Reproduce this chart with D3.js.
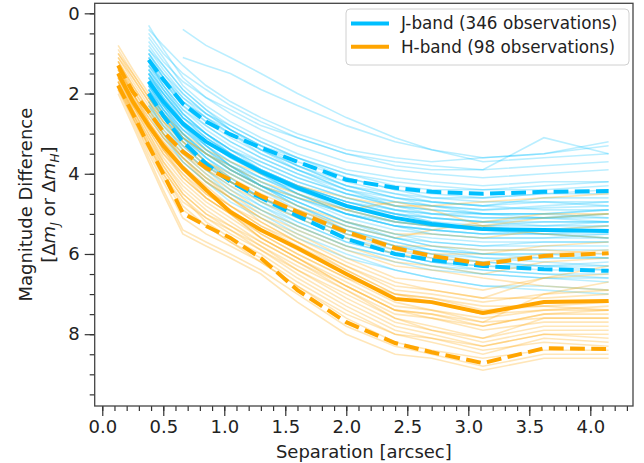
<!DOCTYPE html>
<html>
<head>
<meta charset="utf-8">
<script src="https://cdn.jsdelivr.net/npm/d3@7"></script>
<style>
  body { margin: 0; background: #fff; }
  text { font-family: "DejaVu Sans", sans-serif; fill: #222; }
</style>
</head>
<body>
<div id="chart"></div>
<script>
// separations (arcsec) at which each contrast curve is sampled
const sepJ = [0.38, 0.5, 0.66, 0.85, 1.05, 1.3, 1.6, 2.0, 2.4, 2.7, 3.12, 3.62, 4.15];
const sepH = [0.13, 0.25, 0.38, 0.5, 0.66, 0.85, 1.05, 1.3, 1.6, 2.0, 2.4, 2.7, 3.12, 3.62, 4.15];

// summary curves (median + dashed envelopes)
const jMedian = [1.7, 2.2, 2.75, 3.2, 3.55, 3.95, 4.35, 4.8, 5.1, 5.25, 5.38, 5.4, 5.43];
const jUpper  = [1.16, 1.65, 2.25, 2.7, 3.02, 3.35, 3.7, 4.15, 4.35, 4.45, 4.5, 4.45, 4.43];
const jLower  = [2.0, 2.55, 3.2, 3.75, 4.2, 4.6, 5.05, 5.62, 6.0, 6.15, 6.3, 6.38, 6.42];

const hMedian = [1.5, 2.2, 2.8, 3.3, 3.85, 4.4, 4.95, 5.4, 5.85, 6.5, 7.12, 7.2, 7.47, 7.2, 7.17];
const hUpper  = [1.3, 1.95, 2.45, 2.95, 3.45, 3.85, 4.15, 4.55, 4.95, 5.45, 5.85, 6.05, 6.25, 6.05, 5.98];
const hLower  = [1.8, 2.5, 3.3, 4.0, 4.98, 5.3, 5.6, 6.1, 6.9, 7.7, 8.22, 8.45, 8.72, 8.35, 8.37];

// individual J-band observations (a subset)
const jCurves = [
  [0.3, 0.9, 1.6, 2.1, 2.5, 2.9, 3.3, 3.7, 3.9, 4.0, 4.1, 4.0, 3.9],
  [0.6, 1.1, 1.8, 2.3, 2.7, 3.1, 3.5, 3.9, 4.1, 4.2, 4.3, 4.2, 4.2],
  [0.9, 1.4, 2.0, 2.5, 2.9, 3.3, 3.7, 4.1, 4.4, 4.5, 4.6, 4.5, 4.5],
  [1.1, 1.6, 2.2, 2.7, 3.0, 3.4, 3.8, 4.3, 4.6, 4.7, 4.8, 4.7, 4.7],
  [1.2, 1.8, 2.4, 2.9, 3.3, 3.7, 4.1, 4.5, 4.8, 4.9, 5.0, 5.0, 4.9],
  [1.4, 1.9, 2.5, 3.0, 3.4, 3.8, 4.2, 4.6, 4.9, 5.1, 5.2, 5.1, 5.1],
  [1.5, 2.0, 2.6, 3.1, 3.5, 3.9, 4.3, 4.7, 5.0, 5.2, 5.3, 5.3, 5.2],
  [1.6, 2.1, 2.7, 3.2, 3.6, 4.0, 4.4, 4.9, 5.2, 5.3, 5.4, 5.4, 5.4],
  [1.7, 2.3, 2.9, 3.3, 3.7, 4.1, 4.5, 5.0, 5.3, 5.4, 5.5, 5.5, 5.6],
  [1.8, 2.4, 3.0, 3.5, 3.9, 4.3, 4.7, 5.2, 5.5, 5.6, 5.7, 5.7, 5.7],
  [1.9, 2.5, 3.1, 3.6, 4.0, 4.4, 4.8, 5.3, 5.6, 5.8, 5.9, 5.9, 5.9],
  [2.0, 2.6, 3.2, 3.7, 4.1, 4.6, 5.0, 5.5, 5.8, 6.0, 6.1, 6.1, 6.1],
  [2.1, 2.7, 3.4, 3.9, 4.3, 4.8, 5.2, 5.7, 6.0, 6.2, 6.3, 6.3, 6.4],
  [2.2, 2.9, 3.5, 4.0, 4.5, 4.9, 5.4, 5.9, 6.2, 6.4, 6.5, 6.6, 6.6],
  [2.3, 3.0, 3.7, 4.2, 4.7, 5.1, 5.6, 6.1, 6.4, 6.6, 6.8, 6.8, 6.9],
  [1.3, 1.7, 2.3, 2.7, 3.1, 3.5, 3.9, 4.4, 4.7, 4.8, 4.9, 4.85, 4.8],
  [1.0, 1.5, 2.1, 2.6, 3.0, 3.5, 3.9, 4.3, 4.5, 4.6, 4.6, 4.5, 4.4],
  [1.6, 2.2, 2.8, 3.3, 3.8, 4.2, 4.6, 5.0, 5.2, 5.3, 5.3, 5.2, 5.2],
  [1.9, 2.4, 2.9, 3.4, 3.8, 4.2, 4.6, 5.1, 5.4, 5.5, 5.6, 5.6, 5.5],
  [1.5, 2.1, 2.8, 3.3, 3.7, 4.1, 4.4, 4.8, 5.0, 5.1, 5.2, 5.3, 5.3],
  [1.8, 2.3, 2.8, 3.2, 3.5, 3.9, 4.3, 4.7, 5.0, 5.2, 5.4, 5.5, 5.6],
  [2.0, 2.5, 3.0, 3.5, 3.9, 4.3, 4.7, 5.2, 5.6, 5.8, 6.0, 6.0, 6.0],
  [1.4, 1.9, 2.5, 3.0, 3.4, 3.9, 4.3, 4.8, 5.1, 5.3, 5.4, 5.5, 5.5],
  [1.1, 1.7, 2.3, 2.8, 3.2, 3.6, 4.0, 4.5, 4.8, 4.9, 5.0, 5.1, 5.0],
  [0.5, 1.0, 1.5, 1.9, 2.3, 2.7, 3.1, 3.5, 3.8, 3.9, 3.9, 3.1, 3.5],
  [null, null, 0.4, 0.8, 1.1, 1.5, 2.0, 2.6, 3.1, 3.4, 3.7, 3.6, 3.5],
  [null, null, 1.1, 1.3, 1.5, 1.9, 2.3, 2.8, 3.2, 3.4, 3.6, 3.5, 3.3],
  [0.7, 1.2, 1.7, 2.1, 2.4, 2.8, 3.1, 3.5, 3.7, 3.8, 3.9, 3.8, 3.7],
  [2.0, 2.5, 3.1, 3.6, 4.0, 4.4, 4.9, 5.4, 5.7, 5.9, 6.1, 6.2, 6.3],
  [1.7, 2.2, 2.8, 3.4, 3.8, 4.3, 4.7, 5.2, 5.5, 5.7, 5.8, 5.8, 5.8],
  [1.3, 1.8, 2.4, 2.8, 3.2, 3.6, 4.0, 4.4, 4.6, 4.7, 4.8, 4.9, 4.9],
  [1.6, 2.0, 2.6, 3.0, 3.4, 3.8, 4.2, 4.6, 4.9, 5.0, 5.1, 5.1, 5.0],
  [2.1, 2.6, 3.2, 3.7, 4.2, 4.7, 5.2, 5.7, 6.0, 6.2, 6.3, 6.4, 6.4],
  [1.2, 1.8, 2.5, 3.0, 3.5, 4.0, 4.5, 5.0, 5.3, 5.4, 5.5, 5.4, 5.4],
  [1.9, 2.4, 3.0, 3.5, 3.9, 4.3, 4.8, 5.3, 5.6, 5.7, 5.8, 5.7, 5.7],
  [0.8, 1.3, 1.9, 2.4, 2.8, 3.2, 3.6, 4.0, 4.3, 4.4, 4.4, 4.3, 4.2],
  [1.5, 2.0, 2.6, 3.0, 3.4, 3.7, 4.1, 4.5, 4.7, 4.8, 4.9, 4.8, 4.7],
  [2.2, 2.8, 3.4, 3.9, 4.4, 4.8, 5.3, 5.8, 6.1, 6.3, 6.4, 6.5, 6.6],
  [1.0, 1.6, 2.2, 2.6, 3.0, 3.4, 3.8, 4.2, 4.5, 4.7, 4.8, 4.6, 4.6],
  [1.8, 2.3, 2.9, 3.4, 3.9, 4.3, 4.6, 5.0, 5.3, 5.4, 5.5, 5.5, 5.4],
  [0.9, 1.3, 1.9, 2.4, 2.9, 3.4, 3.9, 4.4, 4.8, 5.0, 5.1, 5.1, 5.2],
  [1.4, 2.0, 2.7, 3.3, 3.8, 4.3, 4.8, 5.4, 5.8, 6.0, 6.2, 6.3, 6.3],
  [2.4, 3.0, 3.6, 4.1, 4.5, 4.9, 5.3, 5.8, 6.1, 6.3, 6.5, 6.6, 6.7],
  [1.2, 1.7, 2.2, 2.6, 2.9, 3.3, 3.6, 4.0, 4.2, 4.3, 4.4, 4.4, 4.3],
  [1.7, 2.3, 3.0, 3.6, 4.1, 4.6, 5.0, 5.5, 5.8, 5.9, 6.0, 6.1, 6.1],
  [1.6, 2.2, 2.7, 3.1, 3.5, 3.9, 4.3, 4.7, 4.9, 5.0, 5.0, 5.0, 4.9],
  [2.0, 2.6, 3.3, 3.8, 4.2, 4.6, 5.0, 5.4, 5.7, 5.9, 6.0, 6.0, 6.1],
  [1.3, 1.9, 2.6, 3.1, 3.5, 3.9, 4.3, 4.7, 5.0, 5.1, 5.2, 5.2, 5.2],
  [0.4, 0.8, 1.3, 1.8, 2.2, 2.6, 3.0, 3.4, 3.6, 3.7, 3.6, 3.5, 3.2],
  [1.8, 2.4, 3.1, 3.7, 4.2, 4.6, 5.1, 5.6, 5.9, 6.1, 6.2, 6.3, 6.2],
  [1.1, 1.6, 2.1, 2.5, 2.8, 3.2, 3.6, 4.1, 4.4, 4.6, 4.7, 4.7, 4.8],
  [1.5, 2.1, 2.7, 3.2, 3.6, 4.0, 4.5, 5.0, 5.3, 5.5, 5.6, 5.6, 5.6],
  [2.3, 2.8, 3.3, 3.8, 4.2, 4.7, 5.1, 5.6, 6.0, 6.2, 6.4, 6.5, 6.5],
  [1.9, 2.5, 3.1, 3.5, 3.8, 4.1, 4.5, 4.9, 5.2, 5.3, 5.4, 5.4, 5.3],
  [1.0, 1.5, 2.0, 2.5, 2.9, 3.3, 3.8, 4.3, 4.6, 4.8, 5.0, 5.0, 5.1],
  [2.5, 3.1, 3.7, 4.2, 4.6, 5.0, 5.5, 6.0, 6.4, 6.6, 6.8, 6.9, 7.0]
];

// individual H-band observations (subset)
const hCurves = [
  [0.8, 1.4, 2.0, 2.5, 3.0, 3.4, 3.7, 4.0, 4.3, 4.6, 4.8, 4.8, 4.7, 4.6, 4.5],
  [1.0, 1.6, 2.2, 2.7, 3.2, 3.7, 4.0, 4.4, 4.8, 5.2, 5.5, 5.5, 5.6, 5.4, 5.3],
  [1.2, 1.9, 2.5, 3.0, 3.5, 4.0, 4.4, 4.9, 5.3, 5.8, 6.2, 6.3, 6.5, 6.2, 6.1],
  [1.3, 2.0, 2.6, 3.1, 3.6, 4.2, 4.6, 5.1, 5.5, 6.1, 6.6, 6.7, 6.9, 6.6, 6.5],
  [1.4, 2.1, 2.7, 3.2, 3.8, 4.3, 4.8, 5.3, 5.7, 6.3, 6.9, 7.0, 7.2, 7.0, 6.9],
  [1.5, 2.2, 2.8, 3.4, 3.9, 4.5, 4.9, 5.4, 5.9, 6.5, 7.1, 7.2, 7.5, 7.2, 7.2],
  [1.6, 2.3, 3.0, 3.6, 4.2, 4.7, 5.1, 5.6, 6.1, 6.8, 7.4, 7.6, 7.8, 7.5, 7.5],
  [1.7, 2.4, 3.2, 3.8, 4.5, 5.0, 5.4, 5.9, 6.4, 7.1, 7.7, 7.9, 8.1, 7.8, 7.8],
  [1.8, 2.6, 3.4, 4.1, 4.9, 5.3, 5.7, 6.1, 6.7, 7.4, 8.0, 8.2, 8.5, 8.1, 8.2],
  [1.9, 2.7, 3.6, 4.4, 5.4, 5.7, 6.0, 6.4, 7.0, 7.8, 8.3, 8.5, 8.8, 8.5, 8.5],
  [1.6, 2.3, 2.9, 3.5, 4.0, 4.5, 4.9, 5.5, 6.0, 6.6, 7.0, 7.1, 7.3, 7.3, 7.4],
  [1.4, 2.0, 2.6, 3.1, 3.6, 4.1, 4.5, 5.0, 5.4, 5.9, 6.3, 6.4, 6.6, 6.8, 6.9],
  [1.2, 1.8, 2.4, 2.9, 3.4, 3.9, 4.3, 4.7, 5.1, 5.6, 6.0, 6.1, 6.2, 6.0, 5.9],
  [1.7, 2.5, 3.3, 4.0, 4.7, 5.1, 5.5, 5.9, 6.5, 7.2, 7.8, 8.0, 8.3, 8.0, 8.0],
  [1.5, 2.3, 3.0, 3.7, 4.3, 4.8, 5.2, 5.7, 6.2, 6.9, 7.5, 7.6, 7.9, 7.7, 7.7],
  [1.3, 1.9, 2.5, 3.0, 3.5, 3.9, 4.2, 4.6, 4.9, 5.3, 5.6, 5.4, 5.2, 5.0, 5.0],
  [1.8, 2.5, 3.2, 3.9, 4.6, 5.2, 5.6, 6.0, 6.6, 7.3, 7.9, 8.1, 8.4, 8.2, 8.3],
  [1.1, 1.7, 2.3, 2.8, 3.3, 3.8, 4.2, 4.6, 5.0, 5.5, 5.9, 6.0, 6.0, 5.8, 5.7],
  [1.6, 2.2, 2.8, 3.4, 4.0, 4.6, 5.0, 5.6, 6.1, 6.7, 7.3, 7.4, 7.6, 7.4, 7.3],
  [2.0, 2.8, 3.7, 4.5, 5.5, 5.8, 6.1, 6.5, 7.2, 8.0, 8.5, 8.6, 8.9, 8.6, 8.6],
  [1.4, 2.0, 2.7, 3.2, 3.7, 4.2, 4.6, 5.1, 5.6, 6.2, 6.7, 6.9, 7.1, 6.6, 6.3],
  [1.5, 2.2, 2.9, 3.5, 4.1, 4.6, 5.0, 5.5, 6.0, 6.6, 7.2, 7.4, 7.7, 7.0, 6.7],
  [1.0, 1.5, 2.1, 2.6, 3.1, 3.5, 3.9, 4.3, 4.6, 4.9, 4.7, 4.9, 5.3, 5.5, 5.6],
  [1.7, 2.4, 3.1, 3.7, 4.4, 4.9, 5.3, 5.8, 6.3, 6.9, 7.6, 7.8, 8.1, 7.6, 7.6],
  [1.3, 2.0, 2.7, 3.3, 3.9, 4.4, 4.8, 5.2, 5.7, 6.3, 6.8, 6.9, 7.1, 7.1, 7.0],
  [1.9, 2.6, 3.5, 4.2, 5.1, 5.5, 5.8, 6.2, 6.8, 7.6, 8.2, 8.4, 8.6, 8.4, 8.4],
  [1.2, 1.8, 2.4, 3.0, 3.6, 4.1, 4.6, 5.2, 5.7, 6.4, 7.0, 7.1, 7.4, 7.3, 7.2],
  [1.6, 2.4, 3.1, 3.8, 4.5, 5.0, 5.3, 5.7, 6.2, 6.8, 7.4, 7.5, 7.8, 7.5, 7.4],
  [1.1, 1.6, 2.2, 2.7, 3.2, 3.7, 4.1, 4.5, 4.9, 5.4, 5.8, 5.8, 5.9, 5.9, 6.0],
  [1.8, 2.6, 3.3, 4.0, 4.8, 5.3, 5.7, 6.2, 6.8, 7.5, 8.0, 8.1, 8.3, 8.0, 8.1],
  [1.5, 2.1, 2.8, 3.3, 3.9, 4.4, 4.8, 5.3, 5.8, 6.4, 7.0, 7.2, 7.5, 7.4, 7.4],
  [0.9, 1.5, 2.1, 2.6, 3.1, 3.5, 3.8, 4.2, 4.5, 4.9, 5.2, 5.3, 5.3, 5.1, 5.0],
  [1.4, 2.1, 2.8, 3.4, 4.1, 4.6, 5.0, 5.6, 6.1, 6.8, 7.4, 7.5, 7.7, 7.6, 7.6],
  [1.7, 2.5, 3.3, 3.9, 4.6, 5.1, 5.4, 5.8, 6.4, 7.0, 7.6, 7.9, 8.2, 7.9, 7.9]
];

const xTicks = [0.0, 0.5, 1.0, 1.5, 2.0, 2.5, 3.0, 3.5, 4.0];
const yTicks = [0, 2, 4, 6, 8];
const legendLabels = ["J-band (346 observations)", "H-band (98 observations)"];

const colorJ = "#00bfff";
const colorH = "#ffa500";

const width = 644, height = 463;
const margin = { top: 3.3, right: 11, bottom: 57, left: 94.7 };
const innerW = width - margin.left - margin.right;
const innerH = height - margin.top - margin.bottom;

const svg = d3.select("#chart")
  .append("svg")
  .attr("width", width)
  .attr("height", height);

const x = d3.scaleLinear().domain([-0.062, 4.35]).range([0, innerW]);
const y = d3.scaleLinear().domain([-0.25, 9.79]).range([0, innerH]); // magnitudes grow downwards

const g = svg.append("g").attr("transform", `translate(${margin.left},${margin.top})`);

g.append("clipPath").attr("id", "clip")
  .append("rect").attr("width", innerW).attr("height", innerH);

const plot = g.append("g").attr("clip-path", "url(#clip)");

const lineFor = (seps) => d3.line()
  .defined(d => d != null)
  .x((d, i) => x(seps[i]))
  .y(d => y(d));

const lineJ = lineFor(sepJ);
const lineH = lineFor(sepH);

// thin individual curves
plot.selectAll(".thinJ")
  .data(jCurves)
  .join("path")
  .attr("class", "thinJ")
  .attr("d", lineJ)
  .attr("fill", "none")
  .attr("stroke", colorJ)
  .attr("stroke-width", 1.6)
  .attr("stroke-opacity", 0.27);

plot.selectAll(".thinH")
  .data(hCurves)
  .join("path")
  .attr("class", "thinH")
  .attr("d", lineH)
  .attr("fill", "none")
  .attr("stroke", colorH)
  .attr("stroke-width", 1.6)
  .attr("stroke-opacity", 0.28);

// summary curves
const bold = [
  { vals: jMedian, line: lineJ, color: colorJ, dash: null },
  { vals: jUpper, line: lineJ, color: colorJ, dash: "14.8,6.4" },
  { vals: jLower, line: lineJ, color: colorJ, dash: "14.8,6.4" },
  { vals: hMedian, line: lineH, color: colorH, dash: null },
  { vals: hUpper, line: lineH, color: colorH, dash: "14.8,6.4" },
  { vals: hLower, line: lineH, color: colorH, dash: "14.8,6.4" }
];

plot.selectAll(".bold")
  .data(bold)
  .join("path")
  .attr("class", "bold")
  .attr("d", d => d.line(d.vals))
  .attr("fill", "none")
  .attr("stroke", d => d.color)
  .attr("stroke-width", 4)
  .attr("stroke-dasharray", d => d.dash);

// axes
const xAxis = d3.axisBottom(x)
  .tickValues(xTicks)
  .tickFormat(d3.format(".1f"))
  .tickSize(10)
  .tickPadding(4);

const yAxis = d3.axisLeft(y)
  .tickValues(yTicks)
  .tickFormat(d3.format("d"))
  .tickSize(10)
  .tickPadding(5);

const xMinor = d3.axisBottom(x)
  .tickValues(d3.range(0, 44).map(i => i / 10))
  .tickFormat("")
  .tickSize(5);

const yMinor = d3.axisLeft(y)
  .tickValues(d3.range(0, 20).map(i => i / 2))
  .tickFormat("")
  .tickSize(5);

const gx = g.append("g").attr("transform", `translate(0,${innerH})`);
gx.call(xMinor);
gx.append("g").call(xAxis);

const gy = g.append("g");
gy.call(yMinor);
gy.append("g").call(yAxis);

g.selectAll(".domain").remove();
g.selectAll(".tick line").attr("stroke", "#333").attr("stroke-width", 1.2);
g.selectAll(".tick text")
  .attr("font-size", 18)
  .attr("font-family", "DejaVu Sans, sans-serif")
  .attr("fill", "#222");

// frame
g.append("rect")
  .attr("width", innerW)
  .attr("height", innerH)
  .attr("fill", "none")
  .attr("stroke", "#444")
  .attr("stroke-width", 1.3);

// axis labels
svg.append("text")
  .attr("x", margin.left + innerW / 2)
  .attr("y", 458)
  .attr("text-anchor", "middle")
  .attr("font-size", 18)
  .text("Separation [arcsec]");

const yl = svg.append("text")
  .attr("transform", `translate(32,${margin.top + innerH / 2}) rotate(-90)`)
  .attr("text-anchor", "middle")
  .attr("font-size", 18);
yl.append("tspan").attr("x", 0).attr("dy", 0).text("Magnitude Difference");
const l2 = yl.append("tspan").attr("x", 0).attr("dy", 23);
l2.append("tspan").text("[Δ");
l2.append("tspan").attr("font-style", "italic").text("m");
l2.append("tspan").attr("font-style", "italic").attr("font-size", 12).attr("dy", 4).text("J");
l2.append("tspan").attr("dy", -4).text(" or Δ");
l2.append("tspan").attr("font-style", "italic").text("m");
l2.append("tspan").attr("font-style", "italic").attr("font-size", 12).attr("dy", 4).text("H");
l2.append("tspan").attr("dy", -4).text("]");

// legend
const lg = svg.append("g").attr("transform", "translate(346,9)");
lg.append("rect")
  .attr("width", 283)
  .attr("height", 56)
  .attr("rx", 4)
  .attr("fill", "#fff")
  .attr("fill-opacity", 0.8)
  .attr("stroke", "#d0d0d0");

const items = lg.selectAll(".item")
  .data(legendLabels.map((label, i) => ({ label, color: i === 0 ? colorJ : colorH })))
  .join("g")
  .attr("class", "item")
  .attr("transform", (d, i) => `translate(0,${14.5 + i * 23.3})`);

items.append("line")
  .attr("x1", 5).attr("x2", 43)
  .attr("stroke", d => d.color)
  .attr("stroke-width", 4);

items.append("text")
  .attr("x", 55)
  .attr("dy", "0.35em")
  .attr("font-size", 16.8)
  .text(d => d.label);
</script>
</body>
</html>
